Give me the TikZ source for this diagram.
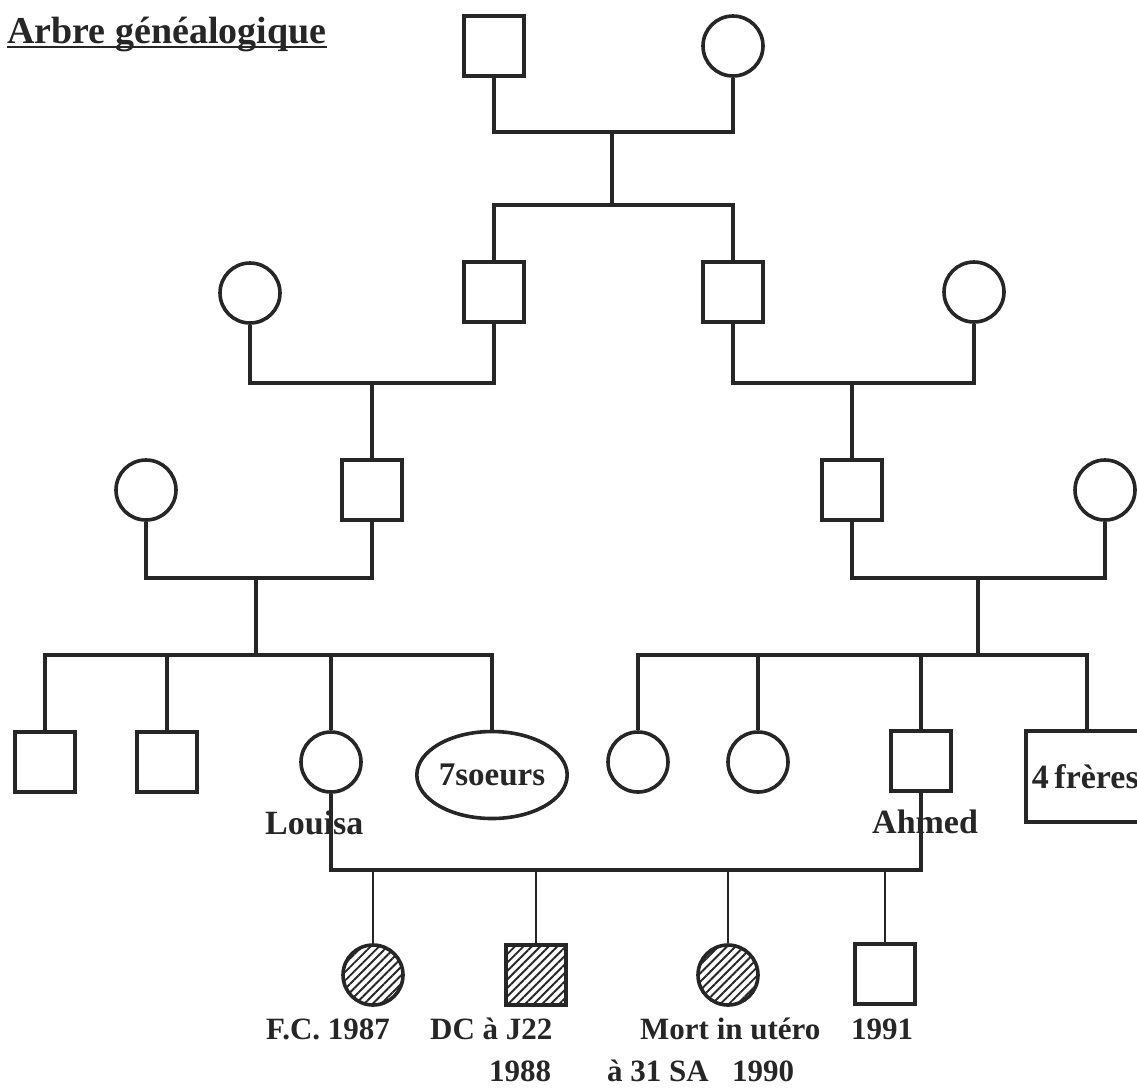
\documentclass[tikz,border=0pt]{standalone}
\usepackage{fontspec}
\setmainfont{Liberation Serif}
\usetikzlibrary{shapes.geometric,patterns.meta}
\definecolor{ink}{HTML}{262626}
\tikzset{
  ln/.style={line width=3.4pt, draw=ink},
  sq/.style={draw=ink, line width=3.6pt, rectangle, minimum size=60pt, inner sep=0pt},
  ci/.style={draw=ink, line width=3.6pt, circle, minimum size=60pt, inner sep=0pt},
  hatch/.style={pattern={Lines[angle=45,distance=6pt,line width=1.9pt]}, pattern color=ink},
  lbl/.style={font=\bfseries\fontsize{34}{40}\selectfont, inner sep=0pt, anchor=base west, text=ink},
  lbls/.style={font=\bfseries\fontsize{31}{36}\selectfont, inner sep=0pt, anchor=base west, text=ink},
}
\begin{document}
\begin{tikzpicture}[x=1pt,y=-1pt]
\useasboundingbox (0,0) rectangle (1137,1088);
\clip (0,0) rectangle (1137,1088);

% title
\node[lbl, font=\bfseries\fontsize{38}{44}\selectfont] (title) at (7,43) {Arbre généalogique};
\draw[line width=2.8pt, draw=ink] ([yshift=-4pt]title.base west) -- ([yshift=-4pt]title.base east);

% generation 1
\node[sq] (A) at (494,46) {};
\node[ci] (B) at (733,46) {};
% generation 2
\node[sq] (C) at (494,292) {};
\node[sq] (D) at (733,292) {};
\node[ci] (E) at (250,293) {};
\node[ci] (F) at (974,292) {};
% generation 3
\node[ci] (H) at (146,490) {};
\node[sq] (G) at (372,490) {};
\node[sq] (I) at (852,490) {};
\node[ci] (J) at (1105,490) {};
% generation 4 left
\node[sq] (K1) at (45,762) {};
\node[sq] (K2) at (167,762) {};
\node[ci] (L) at (331,762) {};
\node[draw=ink, line width=3.6pt, ellipse, minimum width=125pt, minimum height=87pt, inner sep=0pt,
      font=\bfseries\fontsize{33}{38}\selectfont, text=ink] (S) at (492,775) {7soeurs};
% generation 4 right
\node[ci] (R1) at (638,762) {};
\node[ci] (R2) at (758,762) {};
\node[sq] (AH) at (921,761) {};
\node[draw=ink, line width=3.6pt, rectangle, anchor=north west, minimum height=91pt, text width=110pt,
      inner xsep=6pt, inner ysep=0pt, align=left, font=\bfseries\fontsize{34}{40}\selectfont, text=ink] (FR) at (1024,729) {4\,frères};
% children
\node[ci, hatch] (c1) at (373,975) {};
\node[sq, hatch] (c2) at (536,975) {};
\node[ci, hatch] (c3) at (728,975) {};
\node[sq] (c4) at (885,974) {};

% labels
\node[lbl] (louisa) at (265,834) {Louisa};
\node[lbl] (ahmed) at (872,833) {Ahmed};
\node[lbls] (t1) at (266,1039) {F.C. 1987};
\node[lbls] (t2) at (430,1039) {DC à J22};
\node[lbls] (t3) at (489,1081) {1988};
\node[lbls] (t4) at (640,1039) {Mort in utéro};
\node[lbls] (t5) at (851,1039) {1991};
\node[lbls] (t6) at (607,1081) {à 31 SA\hspace{0.75em}1990};

% junction coordinates
\coordinate (m1) at (612,132);
\coordinate (s1) at (612,205);
\coordinate (m2) at (372,383);
\coordinate (m3) at (852,383);
\coordinate (m4) at (256,578);
\coordinate (s4) at (256,655);
\coordinate (m5) at (978,578);
\coordinate (s5) at (978,655);
\coordinate (mm) at (626,870);

% connectors
\draw[ln] (A.south) |- (m1) -| (B.south);
\draw[ln] (m1) -- (s1);
\draw[ln] (C.north) |- (s1) -| (D.north);
\draw[ln] (E.south) |- (m2) -| (C.south);
\draw[ln] (m2) -- (G.north);
\draw[ln] (D.south) |- (m3) -| (F.south);
\draw[ln] (m3) -- (I.north);
\draw[ln] (H.south) |- (m4) -| (G.south);
\draw[ln] (m4) -- (s4);
\draw[ln] (K1.north) |- (s4) -| (S.north);
\draw[ln] (K2.north) -- (K2.north |- s4);
\draw[ln] (L.north) -- (L.north |- s4);
\draw[ln] (I.south) |- (m5) -| (J.south);
\draw[ln] (m5) -- (s5);
\draw[ln] (R1.north) |- (s5) -| (FR.north);
\draw[ln] (R2.north) -- (R2.north |- s5);
\draw[ln] (AH.north) -- (AH.north |- s5);
\draw[ln] (L.south) |- (mm) -| (AH.south);
\draw[ln, line width=2.8pt] (c1.north) -- (c1.north |- mm);
\draw[ln, line width=2.8pt] (c2.north) -- (c2.north |- mm);
\draw[ln, line width=2.8pt] (c3.north) -- (c3.north |- mm);
\draw[ln, line width=2.8pt] (c4.north) -- (c4.north |- mm);
\end{tikzpicture}
\end{document}
